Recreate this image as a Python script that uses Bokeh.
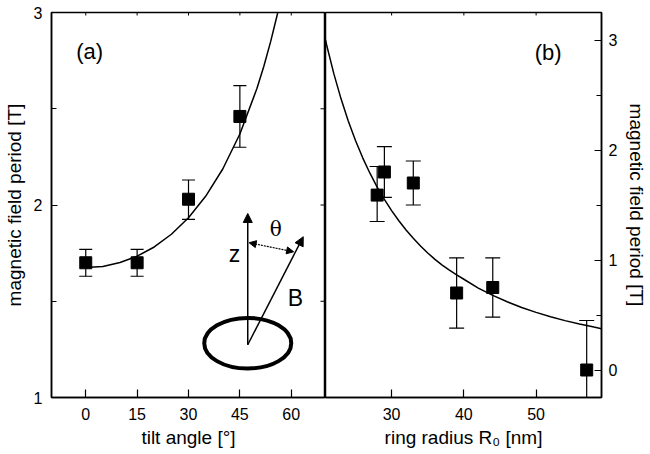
import math
from bokeh.plotting import figure
from bokeh.layouts import row
from bokeh.models import (Range1d, FixedTicker, Arrow, NormalHead,
                          Label, ColumnDataSource)
from bokeh.embed import file_html
from bokeh.resources import INLINE

# ---------------- data: panel (a) ----------------
tilt_angle = [0, 15, 30, 45]
period_a = [1.70, 1.70, 2.03, 2.46]
period_a_hi = [1.77, 1.77, 2.13, 2.62]
period_a_lo = [1.63, 1.63, 1.925, 2.30]

fit_a_angle = [0, 5, 10, 15, 20, 25, 30, 35, 40, 45, 50, 52, 54, 56, 57]
fit_a_period = [1.675, 1.681, 1.701, 1.734, 1.782, 1.848, 1.934, 2.045, 2.187,
                2.369, 2.606, 2.721, 2.850, 2.995, 3.076]

tilt_ticks = [0, 15, 30, 45, 60]
period_a_ticks = [1, 2, 3]
period_a_minor = [1.5, 2.5]

# ---------------- data: panel (b) ----------------
ring_radius = [28, 29, 33, 39, 44, 57]
period_b = [1.59, 1.80, 1.70, 0.70, 0.75, 0.0]
period_b_hi = [1.85, 2.03, 1.90, 1.02, 1.02, 0.45]
period_b_lo = [1.35, 1.57, 1.50, 0.38, 0.48, -0.45]

fit_b_radius = [20.85, 21, 22, 23, 24, 25, 26, 27, 28, 29, 30, 31, 32, 33, 34, 35,
                36, 37, 38, 39, 40, 42, 44, 46, 48, 50, 52, 54, 56, 58, 59.05]
fit_b_period = [3.00, 2.957, 2.694, 2.465, 2.264, 2.086, 1.929, 1.789, 1.663, 1.551,
                1.449, 1.357, 1.273, 1.197, 1.128, 1.064, 1.006, 0.953, 0.908, 0.865,
                0.825, 0.745, 0.678, 0.620, 0.568, 0.524, 0.484, 0.449, 0.418, 0.390,
                0.376]

radius_ticks = [30, 40, 50]
period_b_ticks = [0, 1, 2, 3]
period_b_minor = [0.5, 1.5, 2.5]

# ---------------- inset sketch (panel a, data units) ----------------
ring_center = (47.3, 1.282)
ring_size = (25.4, 0.263)
z_arrow = (47.3, 1.274, 47.3, 1.956)
b_arrow = (47.3, 1.274, 63.5, 1.835)
theta_arrow = (47.7, 1.804, 60.7, 1.757)

FONT = "Liberation Sans"


def style_axis(ax, ticks, minor, title, label_standoff, title_standoff, major=8, minor_len=5):
    ax.ticker = FixedTicker(ticks=ticks, minor_ticks=minor)
    ax.major_tick_in = major
    ax.major_tick_out = 0
    ax.minor_tick_in = minor_len
    ax.minor_tick_out = 0
    ax.major_tick_line_color = "black"
    ax.minor_tick_line_color = "black"
    ax.major_tick_line_width = 1.2
    ax.minor_tick_line_width = 1.2
    ax.axis_line_color = "black"
    ax.axis_line_width = 1.5
    ax.major_label_text_font = FONT
    ax.major_label_text_color = "black"
    ax.major_label_text_font_size = "16px"
    ax.major_label_standoff = label_standoff
    ax.axis_label = title
    ax.axis_label_text_font = FONT
    ax.axis_label_text_font_size = "19px"
    ax.axis_label_text_font_style = "normal"
    ax.axis_label_text_color = "black"
    ax.axis_label_standoff = title_standoff


def base_fig(width, x_range, y_range, **kw):
    p = figure(width=width, height=450, x_range=x_range, y_range=y_range,
               output_backend="svg", toolbar_location=None,
               min_border_top=12, min_border_bottom=52, **kw)
    p.grid.visible = False
    p.outline_line_color = "black"
    p.outline_line_width = 1.5
    p.background_fill_color = "white"
    p.border_fill_color = "white"
    return p


def mirror_ticks(p, xs, y_edge, top_len, ys, x_edge, side_len):
    # short inward ticks on the top and right frame edges (half of each dash is clipped)
    p.scatter(x=xs, y=[y_edge] * len(xs), marker="dash", angle=math.pi / 2,
              size=2 * top_len, line_color="black", line_width=1.0)
    if ys:
        p.scatter(x=[x_edge] * len(ys), y=ys, marker="dash", size=2 * side_len,
                  line_color="black", line_width=1.0)


# ---------------- panel (a) ----------------
p1 = base_fig(325, Range1d(-10, 70), Range1d(1, 3),
              min_border_left=48, min_border_right=0)
style_axis(p1.xaxis[0], tilt_ticks, [], "tilt angle [°]", 10, 4)
style_axis(p1.yaxis[0], period_a_ticks, period_a_minor, "magnetic field period [T]", 9, 6,
           major=6, minor_len=5)
mirror_ticks(p1, tilt_ticks, 3, 3, period_a_ticks + period_a_minor, 70, 5)

src_a = ColumnDataSource(dict(x=tilt_angle, y=period_a, hi=period_a_hi, lo=period_a_lo))
p1.line(fit_a_angle, fit_a_period, line_color="black", line_width=1.5)
p1.segment(x0="x", y0="lo", x1="x", y1="hi", source=src_a, line_color="black", line_width=1.2)
p1.scatter(x="x", y="hi", source=src_a, marker="dash", size=13, line_color="black", line_width=1.2)
p1.scatter(x="x", y="lo", source=src_a, marker="dash", size=13, line_color="black", line_width=1.2)
p1.scatter(x="x", y="y", source=src_a, marker="square", size=12, fill_color="black", line_color="black")

# inset sketch
p1.ellipse(x=[ring_center[0]], y=[ring_center[1]], width=[ring_size[0]], height=[ring_size[1]],
           fill_color=None, line_color="black", line_width=4)
for (xs, ys, xe, ye) in (z_arrow, b_arrow):
    p1.add_layout(Arrow(end=NormalHead(size=9, fill_color="black", line_color="black"),
                        x_start=xs, y_start=ys, x_end=xe, y_end=ye,
                        line_color="black", line_width=1.5))
p1.add_layout(Arrow(start=NormalHead(size=7, fill_color="black", line_color="black"),
                    end=NormalHead(size=7, fill_color="black", line_color="black"),
                    x_start=theta_arrow[0], y_start=theta_arrow[1],
                    x_end=theta_arrow[2], y_end=theta_arrow[3],
                    line_color="black", line_width=1.2, line_dash="2 1"))
p1.add_layout(Label(x=43.4, y=1.745, text="z", text_font=FONT, text_font_size="23px",
                    text_align="center", text_baseline="middle", text_color="black"))
p1.add_layout(Label(x=55.5, y=1.873, text="θ", text_font="DejaVu Serif", text_font_size="20px",
                    text_align="center", text_baseline="middle", text_color="black"))
p1.add_layout(Label(x=61.25, y=1.515, text="B", text_font=FONT, text_font_size="23px",
                    text_align="center", text_baseline="middle", text_color="black"))
p1.add_layout(Label(x=-2.8, y=2.795, text="(a)", text_font=FONT, text_font_size="22px",
                    text_align="left", text_baseline="middle", text_color="black"))

# ---------------- panel (b) ----------------
p2 = base_fig(325, Range1d(20.85, 59.05), Range1d(-0.25, 3.25),
              y_axis_location="right", min_border_left=0, min_border_right=47)
style_axis(p2.xaxis[0], radius_ticks, [], "ring radius R₀ [nm]", 10, 4)
style_axis(p2.yaxis[0], period_b_ticks, period_b_minor, "magnetic field period [T]", 7, 6,
           major=7, minor_len=5)
mirror_ticks(p2, radius_ticks, 3.25, 3, [], 59.05, 0)

src_b = ColumnDataSource(dict(x=ring_radius, y=period_b, hi=period_b_hi, lo=period_b_lo))
p2.line(fit_b_radius, fit_b_period, line_color="black", line_width=1.5)
p2.segment(x0="x", y0="lo", x1="x", y1="hi", source=src_b, line_color="black", line_width=1.2)
p2.scatter(x="x", y="hi", source=src_b, marker="dash", size=15, line_color="black", line_width=1.2)
p2.scatter(x="x", y="lo", source=src_b, marker="dash", size=15, line_color="black", line_width=1.2)
p2.scatter(x="x", y="y", source=src_b, marker="square", size=12, fill_color="black", line_color="black")
p2.add_layout(Label(x=49.8, y=2.89, text="(b)", text_font=FONT, text_font_size="22px",
                    text_align="left", text_baseline="middle", text_color="black"))

layout = row(p1, p2)
open("out.html", "w").write(file_html(layout, INLINE))
